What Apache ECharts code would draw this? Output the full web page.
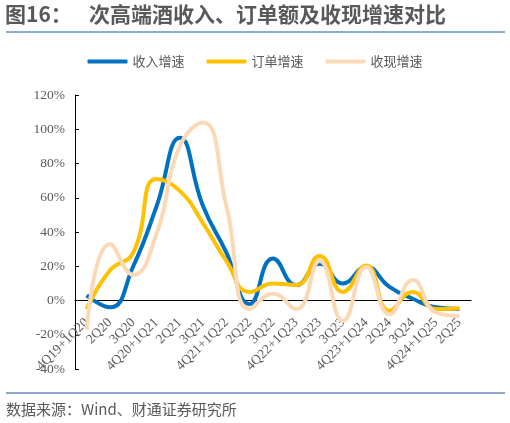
<!DOCTYPE html>
<html>
<head>
<meta charset="utf-8">
<script src="https://cdn.jsdelivr.net/npm/echarts@6/dist/echarts.min.js"></script>
<style>
  html, body { margin: 0; padding: 0; background: #fff; }
  #main { width: 510px; height: 423px; }
</style>
</head>
<body>
<div id="main"></div>
<script>
// 季度
var quarters = ['4Q19+1Q20', '2Q20', '3Q20', '4Q20+1Q21', '2Q21', '3Q21', '4Q21+1Q22', '2Q22', '3Q22',
    '4Q22+1Q23', '2Q23', '3Q23', '4Q23+1Q24', '2Q24', '3Q24', '4Q24+1Q25', '2Q25'];
// 收入增速 (%)
var revenueGrowth = [3, -4, 20, 55, 95, 55, 28, -2, 24.5, 9, 21.5, 10, 19.5, 8, 1, -4, -5];
// 订单增速 (%)
var orderGrowth = [-5, 17.5, 28, 71, 64, 45, 23, 5, 10, 9, 26, 5, 20.5, -6, 5, -5, -4.5];
// 收现增速 (%)
var cashGrowth = [-17, 33, 15, 39, 90, 104, 55, -5, 4, -5, 23, -12, 19.5, -8, 12, -7, -9];

var names = ['收入增速', '订单增速', '收现增速'];
var colors = ['#0070C0', '#FFC000', '#FCD9B6'];

var chart = echarts.init(document.getElementById('main'));

// 0% 线相对底边的位置（x轴放到0处）
var gridTop = 95, gridBottom = 54, yMin = -40, yMax = 120;
var plotH = 423 - gridTop - gridBottom;
var zeroOffset = plotH * (0 - yMin) / (yMax - yMin);

var option = {
    animation: false,
    color: colors,
    graphic: [
        {
            type: 'text', left: 5, top: 4,
            style: { text: '图16：', fill: '#595959', font: 'bold 21px "Noto Sans CJK SC"' }
        },
        {
            type: 'text', left: 89, top: 4,
            style: { text: '次高端酒收入、订单额及收现增速对比', fill: '#595959', font: 'bold 21px "Noto Sans CJK SC"' }
        },
        {
            type: 'line', shape: { x1: 6, y1: 32, x2: 505, y2: 32 },
            style: { stroke: '#1F5AA8', lineWidth: 1 }
        },
        {
            type: 'line', shape: { x1: 6, y1: 393, x2: 505, y2: 393 },
            style: { stroke: '#1F4E9A', lineWidth: 1 }
        },
        {
            type: 'text', left: 6, top: 402,
            style: { text: '数据来源：Wind、财通证券研究所', fill: '#595959', font: '15px "Noto Sans CJK SC"' }
        }
    ],
    legend: {
        top: 50,
        left: 'center',
        itemWidth: 40,
        itemHeight: 4,
        itemGap: 22,
        icon: 'roundRect',
        data: names,
        textStyle: { color: '#595959', fontSize: 13, fontFamily: '"Noto Sans CJK SC"' }
    },
    grid: { left: 75, right: 39, top: gridTop, bottom: gridBottom },
    xAxis: {
        type: 'category',
        data: quarters,
        boundaryGap: true,
        offset: -zeroOffset,
        axisLine: { onZero: false, lineStyle: { color: '#000', width: 1 } },
        axisTick: { inside: true, length: 4, lineStyle: { color: '#000' } },
        axisLabel: {
            rotate: 45,
            interval: 0,
            color: '#595959',
            fontSize: 13.5,
            fontFamily: '"Liberation Serif"',
            margin: 20
        }
    },
    yAxis: {
        type: 'value',
        min: yMin,
        max: yMax,
        interval: 20,
        splitLine: { show: false },
        axisLine: { show: true, lineStyle: { color: '#000', width: 1 } },
        axisTick: { show: true, inside: true, length: 4, lineStyle: { color: '#000' } },
        axisLabel: {
            formatter: '{value}%',
            color: '#595959',
            fontSize: 13.5,
            fontFamily: '"Liberation Serif"',
            margin: 10
        }
    },
    series: [
        { name: names[0], type: 'line', smooth: 0.5, showSymbol: false, data: revenueGrowth, lineStyle: { width: 4 }, z: 3 },
        { name: names[1], type: 'line', smooth: 0.5, showSymbol: false, data: orderGrowth, lineStyle: { width: 4 }, z: 4 },
        { name: names[2], type: 'line', smooth: 0.5, showSymbol: false, data: cashGrowth, lineStyle: { width: 4 }, z: 5 }
    ]
};

chart.setOption(option);
</script>
</body>
</html>
